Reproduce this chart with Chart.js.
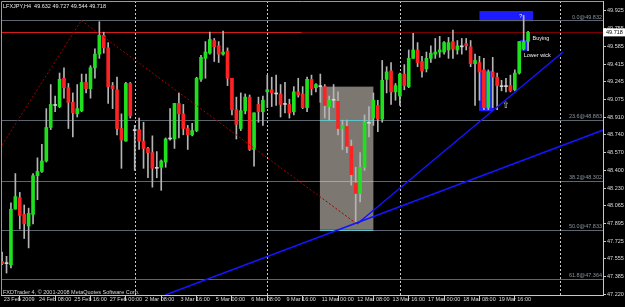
<!DOCTYPE html>
<html lang="en">
<head>
<meta charset="UTF-8">
<title>LFXJPY,H4</title>
<script src="https://cdn.jsdelivr.net/npm/chart.js"></script>
<style>
  body { margin: 0; background: #000; }
  .wrap { width: 625px; height: 307px; position: relative; }
</style>
</head>
<body>
<div class="wrap"><canvas id="chart"></canvas></div>
<script>
// H4 bars, 23 Feb 2009 00:00 -> 20 Mar 2009
const open = [47.53,47.51,47.50,48.03,48.14,47.98,47.87,47.98,48.35,48.39,
  48.49,48.81,49.02,49.01,49.28,49.19,49.05,48.94,48.97,49.24,
  49.18,49.38,49.51,49.69,49.57,49.21,49.17,48.80,48.68,49.23,
  48.78,48.79,48.68,48.61,48.57,48.42,48.43,48.48,48.70,48.70,
  49.04,48.94,48.80,48.74,48.78,49.27,49.47,49.52,49.64,49.59,
  49.51,49.54,49.28,48.98,48.80,48.97,49.10,48.60,49.03,48.96,
  49.15,49.17,49.13,49.13,49.03,49.03,48.96,49.15,49.13,49.00,
  49.27,49.19,49.20,49.20,49.01,49.07,49.06,48.80,48.82,48.63,
  48.28,48.18,48.43,48.85,48.90,49.02,48.89,49.27,49.35,49.15,
  49.11,49.32,49.20,49.47,49.55,49.44,49.37,49.47,49.51,49.53,
  49.53,49.55,49.63,49.55,49.58,49.61,49.58,49.42,49.43,49.36,
  49.00,49.34,49.29,49.20,49.20,49.21,49.17,49.33,49.56,49.632];
const high = [47.62,47.58,48.09,48.37,48.19,48.07,48.04,48.37,48.52,48.65,
  48.99,49.22,49.11,49.33,49.38,49.23,49.14,49.22,49.32,49.32,
  49.40,49.56,49.82,49.72,49.62,49.24,49.29,48.94,49.24,49.24,
  48.83,48.90,48.86,48.62,48.73,48.58,48.50,48.71,48.99,49.04,
  49.14,49.03,48.83,48.85,49.29,49.50,49.63,49.72,49.66,49.63,
  49.73,49.57,49.28,49.10,49.14,49.13,49.12,48.95,49.10,49.11,
  49.31,49.29,49.31,49.22,49.24,49.08,49.20,49.28,49.20,49.29,
  49.31,49.23,49.32,49.22,49.11,49.22,49.15,48.88,48.88,48.69,
  48.43,48.57,48.93,49.01,49.14,49.07,49.45,49.39,49.43,49.23,
  49.33,49.41,49.55,49.71,49.62,49.49,49.53,49.59,49.66,49.68,
  49.63,49.67,49.74,49.64,49.66,49.66,49.64,49.51,49.49,49.47,
  49.36,49.48,49.33,49.26,49.28,49.31,49.36,49.63,49.88,49.727];
const low = [47.50,47.42,47.47,48.03,47.84,47.75,47.66,47.89,48.12,48.38,
  48.48,48.79,48.96,49.00,49.09,48.80,48.72,48.91,48.96,49.14,
  49.09,49.28,49.47,49.52,49.04,48.99,48.74,48.42,48.68,48.90,
  48.40,48.60,48.42,48.33,48.24,48.33,48.21,48.43,48.69,48.61,
  48.71,48.74,48.60,48.73,48.77,49.25,49.28,49.51,49.44,49.43,
  49.50,49.21,48.93,48.70,48.78,48.94,48.59,48.44,48.86,48.83,
  49.00,49.01,49.02,48.91,48.95,48.90,48.93,49.10,48.99,48.96,
  49.12,49.15,49.05,48.90,48.88,49.00,48.74,48.60,48.57,48.26,
  47.89,48.10,48.40,48.72,48.83,48.77,48.86,49.14,49.03,49.07,
  49.02,49.17,49.19,49.47,49.39,49.29,49.34,49.43,49.47,49.48,
  49.51,49.47,49.47,49.51,49.51,49.55,49.39,49.02,49.07,48.98,
  48.98,49.00,48.98,49.16,49.15,49.15,49.16,49.32,49.55,49.544];
const close = [47.51,47.51,48.03,48.15,47.97,47.89,47.99,48.35,48.39,48.49,
  48.81,49.03,49.02,49.27,49.19,49.05,48.95,48.99,49.24,49.18,
  49.38,49.51,49.69,49.57,49.20,49.18,48.80,48.69,49.23,48.92,
  48.78,48.68,48.61,48.57,48.42,48.42,48.49,48.70,48.70,49.04,
  48.94,48.80,48.74,48.78,49.28,49.48,49.53,49.65,49.58,49.51,
  49.53,49.28,48.98,48.84,48.97,49.10,48.60,48.95,48.96,49.07,
  49.17,49.14,49.13,49.03,49.03,48.95,49.15,49.12,49.00,49.27,
  49.18,49.22,49.20,49.02,49.07,49.07,48.80,48.83,48.63,48.36,
  48.18,48.43,48.86,48.85,49.07,48.89,49.26,49.34,49.15,49.21,
  49.32,49.21,49.47,49.55,49.43,49.35,49.47,49.52,49.53,49.55,
  49.62,49.62,49.56,49.59,49.58,49.59,49.42,49.45,49.34,49.00,
  49.34,49.29,49.21,49.20,49.20,49.16,49.33,49.63,49.63,49.718];

const xTickBars = [0, 8, 16, 24, 32, 40, 48, 56, 64, 72, 80, 88, 96, 104, 112];
const xTickLabels = ["23 Feb 2009", "24 Feb 08:00", "25 Feb 16:00", "27 Feb 00:00",
  "2 Mar 08:00", "3 Mar 16:00", "5 Mar 00:00", "6 Mar 08:00", "9 Mar 16:00",
  "11 Mar 00:00", "12 Mar 08:00", "13 Mar 16:00", "17 Mar 00:00", "18 Mar 08:00", "19 Mar 16:00"];
const yTickValues = [49.925, 49.755, 49.585, 49.415, 49.245, 49.075, 48.910, 48.740,
  48.570, 48.400, 48.230, 48.065, 47.895, 47.725, 47.555, 47.385, 47.220];
const yTickLabels = yTickValues.map(v => v.toFixed(3));

const fibLevels = [49.832, 48.883, 48.302, 47.833, 47.364];
const fibLabels = ["0.0@49.832", "23.6@48.883", "38.2@48.302", "50.0@47.833", "61.8@47.364"];

// trend lines [bar, price]
const blueLineLong = [[36.9, 47.21], [136.0, 48.786]];
const blueLineSteep = [[80.3, 47.888], [126.9, 49.531]];
const redDotUp = [[0, 48.643], [17.9, 49.832]];
const redDotDown = [[17.9, 49.832], [80.3, 47.888]];
const redLevel = 49.718;
const redLevelSplit = 67.8;
const separators = [30, 60, 90, 126.2];

// rectangles [bar0, bar1, priceTop, priceBottom]
const greyBox = [71.9, 84.0, 49.20, 47.833];
const blueBoxes = [[108.0, 120.1, 49.922, 49.824], [107.9, 111.2, 49.352, 48.967], [117.2, 119.0, 49.645, 49.543]];
// text notes [bar, price, text]
const notes = [[117.0, 49.874, "?"], [120.0, 49.66, "Buying"], [118.0, 49.50, "Lower wick"]];
const arrowAt = [114.0, 49.015];
const lastPrice = 49.718;

const bars = open.map((_, i) => i);
const bodyColors = bars.map(i => close[i] > open[i] ? '#1fe01f' : close[i] < open[i] ? '#ff2222' : '#d8d8d8');

const FONT = "'Liberation Sans', Arial, sans-serif";

function seg(pts) { return pts.map(p => ({x: p[0], y: p[1]})); }

const overlay = {
    id: 'overlay',
    beforeDatasetsDraw(chart) {
        const {ctx, chartArea: a, scales: {x, y}} = chart;
        ctx.save();
        ctx.beginPath();
        ctx.rect(a.left, a.top, a.right - a.left, a.bottom - a.top);
        ctx.clip();

        // grey rectangle
        const gx0 = x.getPixelForValue(greyBox[0]), gx1 = x.getPixelForValue(greyBox[1]);
        const gy0 = y.getPixelForValue(greyBox[2]), gy1 = y.getPixelForValue(greyBox[3]);
        ctx.fillStyle = '#7c7771';
        ctx.fillRect(gx0, gy0, gx1 - gx0, gy1 - gy0);

        // blue rectangles
        ctx.fillStyle = '#1c1cff';
        blueBoxes.forEach(b => {
            const x0 = x.getPixelForValue(b[0]), x1 = x.getPixelForValue(b[1]);
            const y0 = y.getPixelForValue(b[2]), y1 = y.getPixelForValue(b[3]);
            ctx.fillRect(x0, y0, x1 - x0, y1 - y0);
        });

        // fibo levels
        ctx.lineWidth = 1;
        fibLevels.forEach(lv => {
            const py = Math.round(y.getPixelForValue(lv)) + 0.5;
            ctx.strokeStyle = '#5d6670';
            ctx.beginPath(); ctx.moveTo(a.left, py); ctx.lineTo(a.right, py); ctx.stroke();
            if (lv < greyBox[2] && lv >= greyBox[3] - 0.01) {
                ctx.strokeStyle = '#5fc3cc';
                ctx.beginPath(); ctx.moveTo(gx0, py); ctx.lineTo(gx1, py); ctx.stroke();
            }
        });

        // week separators
        ctx.strokeStyle = '#c8c8c8';
        ctx.setLineDash([2, 2]);
        separators.forEach(b => {
            const px = Math.round(x.getPixelForValue(b)) + 0.5;
            ctx.beginPath(); ctx.moveTo(px, a.top); ctx.lineTo(px, a.bottom); ctx.stroke();
        });
        ctx.setLineDash([]);

        // red horizontal level
        const ry = Math.round(y.getPixelForValue(redLevel)) + 0.5;
        const rx = x.getPixelForValue(redLevelSplit);
        ctx.strokeStyle = '#d41c1c';
        ctx.beginPath(); ctx.moveTo(a.left, ry); ctx.lineTo(rx, ry); ctx.stroke();
        ctx.strokeStyle = '#7a0000';
        ctx.beginPath(); ctx.moveTo(rx, ry); ctx.lineTo(a.right, ry); ctx.stroke();
        ctx.restore();
    },
    afterDraw(chart) {
        const {ctx, chartArea: a, scales: {x, y}} = chart;
        ctx.save();
        // frame
        ctx.strokeStyle = '#9a9a9a';
        ctx.lineWidth = 1;
        ctx.beginPath();
        ctx.moveTo(a.left + 0.5, a.bottom); ctx.lineTo(a.left + 0.5, a.top + 0.5); ctx.lineTo(a.right, a.top + 0.5);
        ctx.stroke();

        ctx.font = '5.5px ' + FONT;
        ctx.textBaseline = 'alphabetic';
        // fibo labels
        ctx.fillStyle = '#8a949e';
        ctx.textAlign = 'right';
        fibLevels.forEach((lv, i) => {
            ctx.fillText(fibLabels[i], a.right - 1, y.getPixelForValue(lv) - 1.5);
        });

        // notes
        ctx.fillStyle = '#f0f0f0';
        ctx.textAlign = 'left';
        ctx.textBaseline = 'middle';
        notes.forEach(n => {
            ctx.fillText(n[2], x.getPixelForValue(n[0]), y.getPixelForValue(n[1]));
        });
        ctx.font = '9px DejaVu Sans';
        ctx.textAlign = 'center';
        ctx.fillStyle = '#d0d0d0';
        ctx.fillText('\u21e7', x.getPixelForValue(arrowAt[0]), y.getPixelForValue(arrowAt[1]));

        // header and copyright
        ctx.font = '5.5px ' + FONT;
        ctx.textAlign = 'left';
        ctx.fillStyle = '#e8e8e8';
        ctx.fillText('LFXJPY,H4  49.632 49.727 49.544 49.718', a.left + 2, a.top + 5);
        ctx.fillStyle = '#d8d8d8';
        ctx.fillText('FXDTrader 4, \u00a9 2001-2008 MetaQuotes Software Corp.', a.left + 2, a.bottom - 3);

        // last price tag
        const py = y.getPixelForValue(lastPrice);
        ctx.fillStyle = '#ffffff';
        ctx.fillRect(a.right, py - 4, chart.width - a.right, 8);
        ctx.fillStyle = '#000000';
        ctx.fillText(lastPrice.toFixed(3), a.right + 3, py + 0.5);
        ctx.restore();
    }
};

const lineDs = (pts, color, width, dash) => ({
    type: 'line',
    data: seg(pts),
    borderColor: color,
    borderWidth: width,
    borderDash: dash,
    pointRadius: 0,
    order: 0
});

new Chart(document.getElementById('chart'), {
    type: 'bar',
    data: {
        datasets: [
            {
                data: bars.map(i => ({x: i, y: [low[i], high[i]]})),
                backgroundColor: '#b4b4b4',
                barThickness: 1,
                grouped: false,
                order: 2
            },
            {
                data: bars.map(i => ({x: i, y: [open[i], close[i]]})),
                backgroundColor: bodyColors,
                barThickness: 3,
                minBarLength: 1,
                grouped: false,
                order: 1
            },
            lineDs(redDotUp, '#a00000', 1, [2, 2]),
            lineDs(redDotDown, '#a00000', 1, [2, 2]),
            lineDs(blueLineLong, '#1414ff', 1.5, []),
            lineDs(blueLineSteep, '#1414ff', 1.5, [])
        ]
    },
    options: {
        responsive: true,
        maintainAspectRatio: false,
        animation: false,
        layout: { padding: { left: 1, top: 1, right: 0, bottom: 0 } },
        plugins: { legend: { display: false }, tooltip: { enabled: false } },
        scales: {
            x: {
                type: 'linear',
                min: -0.25,
                max: 135.95,
                offset: false,
                afterBuildTicks: s => { s.ticks = xTickBars.map(v => ({value: v})); },
                afterFit: s => { s.height = 12; s.paddingLeft = 0; s.paddingRight = 0; },
                ticks: {
                    callback: (v, i) => ' ' + xTickLabels[i],
                    align: 'start',
                    maxRotation: 0,
                    autoSkip: false,
                    padding: -5,
                    color: '#dcdcdc',
                    font: { size: 5.5, family: FONT }
                },
                grid: { drawOnChartArea: false, tickLength: 6, color: '#c8c8c8' },
                border: { color: '#c8c8c8' }
            },
            y: {
                position: 'right',
                min: 47.2105,
                max: 50.0176,
                afterBuildTicks: s => { s.ticks = yTickValues.map(v => ({value: v})); },
                afterFit: s => { s.width = 22; s.paddingTop = 0; s.paddingBottom = 0; },
                ticks: {
                    callback: (v, i) => yTickLabels[i],
                    padding: 1,
                    color: '#dcdcdc',
                    font: { size: 5.5, family: FONT }
                },
                grid: { drawOnChartArea: false, tickLength: 3, color: '#c8c8c8' },
                border: { color: '#c8c8c8' }
            }
        }
    },
    plugins: [overlay]
});
</script>
</body>
</html>
